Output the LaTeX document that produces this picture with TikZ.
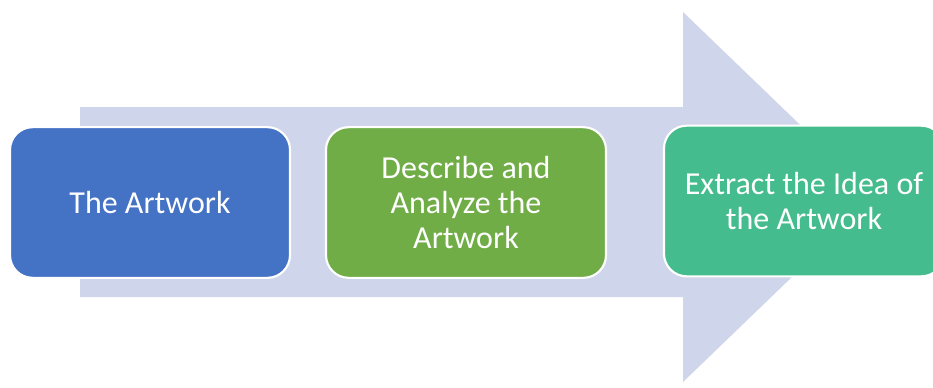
\documentclass[tikz,border=0pt]{standalone}
\usepackage{fontspec}
\setmainfont{Carlito}
\definecolor{arrowc}{HTML}{CFD5EA}
\definecolor{boxa}{HTML}{4472C4}
\definecolor{boxb}{HTML}{70AD47}
\definecolor{boxc}{HTML}{44BC8D}
\begin{document}
\begin{tikzpicture}[x=0.75pt,y=-0.75pt,
  stepbox/.style={draw=white, line width=1.6pt, rounded corners=17pt, text=white,
    minimum width=210pt, minimum height=113pt, align=center, inner sep=0pt,
    font=\fontsize{24}{26.5}\selectfont}]
\useasboundingbox (0,0) rectangle (933,387);
\fill[arrowc] (80,107) -- (683,107) -- (683,12) -- (875,197) -- (683,382) -- (683,297) -- (80,297) -- cycle;
\node[stepbox, fill=boxa] (a) at (150,202.5) {The Artwork};
\node[stepbox, fill=boxb] (b) at (466,202.5) {Describe and\\Analyze the\\Artwork};
\node[stepbox, fill=boxc] (c) at (804,201) {Extract the Idea of\\the Artwork};
\end{tikzpicture}
\end{document}
